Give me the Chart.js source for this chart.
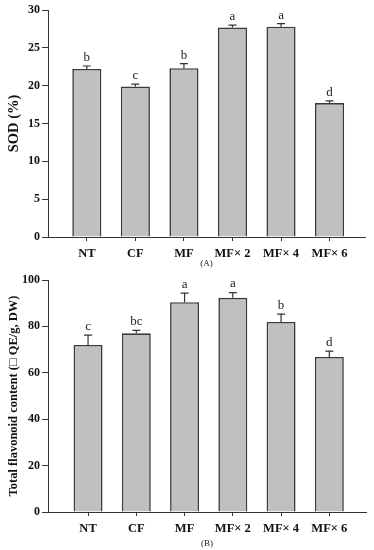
<!DOCTYPE html>
<html>
<head>
<meta charset="utf-8">
<script src="https://cdn.jsdelivr.net/npm/chart.js@4.4.0/dist/chart.umd.min.js"></script>
<style>
  body { margin: 0; background: #fff; }
  .panel { position: relative; width: 374px; }
</style>
</head>
<body>
<div class="panel" style="height:270px"><canvas id="chartA"></canvas></div>
<div class="panel" style="height:280px"><canvas id="chartB"></canvas></div>
<script>
// data
const treatments = ["NT", "CF", "MF", "MF× 2", "MF× 4", "MF× 6"];

const sodValues  = [22.2, 19.9, 22.3, 27.7, 27.8, 17.7];
const sodErrors  = [0.4, 0.3, 0.6, 0.3, 0.4, 0.3];
const sodLetters = ["b", "c", "b", "a", "a", "d"];
const sodTicks   = [0, 5, 10, 15, 20, 25, 30];

const flavValues  = [72, 77, 90.4, 92.3, 81.9, 66.8];
const flavErrors  = [4.2, 1.3, 3.9, 2.3, 3.4, 2.5];
const flavLetters = ["c", "bc", "a", "a", "b", "d"];
const flavTicks   = [0, 20, 40, 60, 80, 100];

const serif = "'Liberation Serif', 'Times New Roman', serif";
const axisColor = '#333';

// upper error bars + significance letters
function errorBars(values, errors, letters) {
  return {
    id: 'errorBars',
    afterDatasetsDraw(chart) {
      const ctx = chart.ctx;
      const x = chart.scales.x, y = chart.scales.y;
      ctx.save();
      ctx.strokeStyle = axisColor;
      ctx.lineWidth = 1.2;
      ctx.fillStyle = '#222';
      ctx.font = '13px ' + serif;
      ctx.textAlign = 'center';
      ctx.textBaseline = 'bottom';
      values.forEach((v, i) => {
        const px = x.getPixelForValue(i);
        const y0 = y.getPixelForValue(v);
        const y1 = y.getPixelForValue(v + errors[i]);
        ctx.beginPath();
        ctx.moveTo(px, y0); ctx.lineTo(px, y1);
        ctx.moveTo(px - 4, y1); ctx.lineTo(px + 4, y1);
        ctx.stroke();
        ctx.fillText(letters[i], px, y1 - 2);
      });
      ctx.restore();
    }
  };
}

function makeChart(id, values, errors, letters, ticks, yTitle, yTitleSize, xTitle, xBoxHeight, rightPad, xMin, xMax) {
  return new Chart(document.getElementById(id), {
    type: 'bar',
    data: {
      datasets: [{
        data: values.map((v, i) => ({ x: i, y: v })),
        backgroundColor: '#c0c0c0',
        borderColor: '#3a3a3a',
        borderWidth: 1.6,
        barPercentage: 0.6,
        categoryPercentage: 1
      }]
    },
    options: {
      responsive: true,
      maintainAspectRatio: false,
      animation: false,
      devicePixelRatio: 1,
      layout: { padding: { top: 10, right: rightPad, left: 0, bottom: 0 } },
      plugins: { legend: { display: false }, tooltip: { enabled: false } },
      scales: {
        x: {
          type: 'linear',
          offset: false,
          min: xMin,
          max: xMax,
          afterBuildTicks: s => { s.ticks = treatments.map((t, i) => ({ value: i })); },
          afterFit: s => { s.height = xBoxHeight; },
          grid: { offset: false, drawOnChartArea: false, tickLength: 4, tickColor: axisColor },
          border: { color: axisColor, width: 1 },
          ticks: {
            autoSkip: false, maxRotation: 0, padding: 5,
            color: '#111',
            font: { family: serif, size: 12.5, weight: 'bold' },
            callback: v => treatments[v]
          },
          title: { display: true, text: xTitle, color: '#222', font: { family: serif, size: 9 }, padding: { top: 0, bottom: 1 } }
        },
        y: {
          min: 0,
          max: ticks[ticks.length - 1],
          afterBuildTicks: s => { s.ticks = ticks.map(v => ({ value: v })); },
          afterFit: s => { s.width = 48; },
          grid: { drawOnChartArea: false, tickLength: 6, tickColor: axisColor },
          border: { color: axisColor, width: 1 },
          ticks: {
            padding: 2, color: '#111',
            font: { family: serif, size: 12, weight: 'bold' }
          },
          title: { display: true, text: yTitle, color: '#111', font: { family: serif, size: yTitleSize, weight: 'bold' }, padding: { top: 6, bottom: 0 } }
        }
      }
    },
    plugins: [errorBars(values, errors, letters)]
  });
}

makeChart('chartA', sodValues, sodErrors, sodLetters, sodTicks, 'SOD (%)', 14.5, '(A)', 33, 9, -0.8, 5.73);
makeChart('chartB', flavValues, flavErrors, flavLetters, flavTicks, 'Total flavonoid content (□ QE/g, DW)', 12.5, '(B)', 38, 8, -0.83, 5.76);
</script>
</body>
</html>
